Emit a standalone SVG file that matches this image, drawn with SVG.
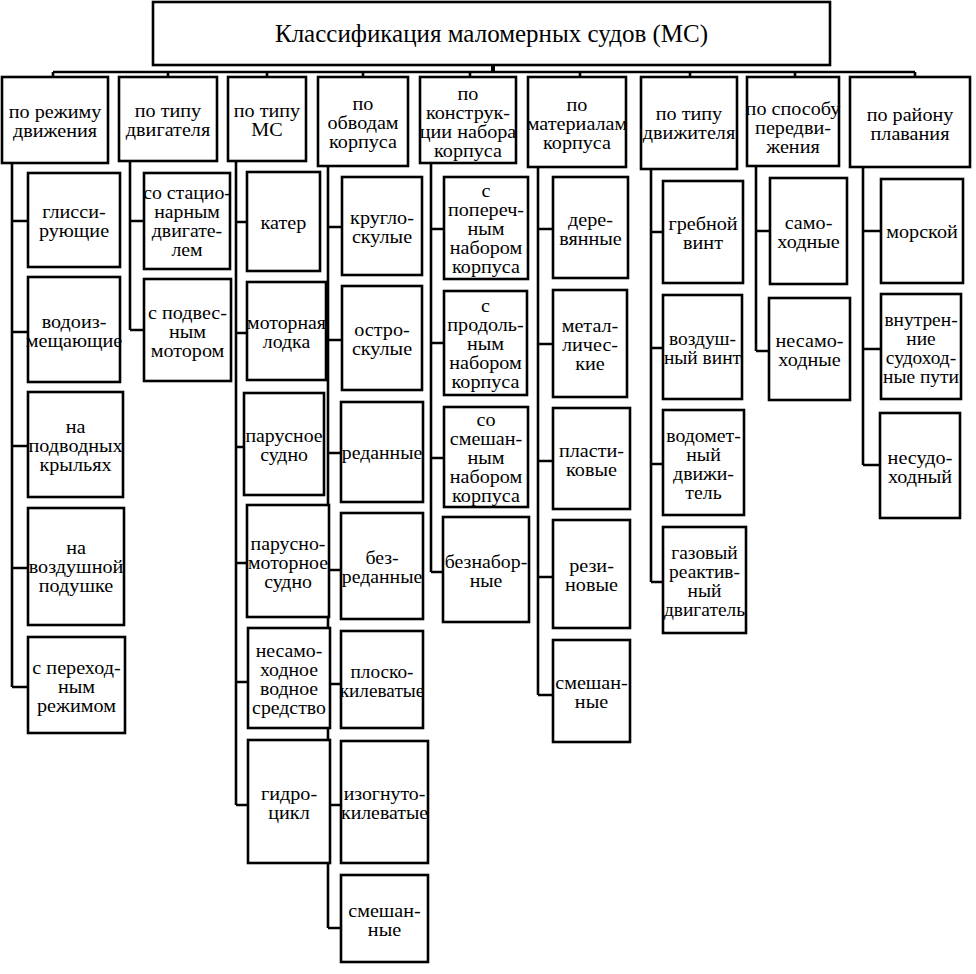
<svg xmlns="http://www.w3.org/2000/svg" width="976" height="974" viewBox="0 0 976 974">
<style>
rect{fill:#fff;stroke:#000;stroke-width:2.6}
text{font-family:'Liberation Serif','DejaVu Serif',serif;font-size:18px;text-anchor:middle;fill:#000}
.title{font-size:25px}
.c path{fill:none;stroke:#000;stroke-width:2.6}
</style>
<rect width="976" height="974" style="stroke:none"/>
<g class="c" id="connectors">
<path d="M53,72 H915 M53,72 V77 M168,72 V77 M267,72 V77 M363,72 V77 M470,72 V77 M580,72 V77 M690,72 V77 M795,72 V77 M915,72 V77" />
<path d="M493,65 V72" style="stroke-width:4"/>
<path d="M12,163 V687 M12,221 H28 M12,332 H28 M12,446 H28 M12,568 H28 M12,687 H28"/>
<path d="M130,161 V330 M130,221 H144 M130,330 H144"/>
<path d="M236,161 V805 M236,222 H247 M236,333 H247 M236,447 H244 M236,563 H247 M236,682 H248 M236,805 H248"/>
<path d="M328,166 V928 M328,227 H342 M328,340 H342 M328,453 H341 M328,570 H341 M328,684 H341 M328,805 H341 M328,928 H341"/>
<path d="M431,163 V572 M431,229 H444 M431,343 H444 M431,458 H444 M431,572 H443"/>
<path d="M538,167 V695 M538,229 H553 M538,344 H553 M538,461 H553 M538,577 H553 M538,695 H553"/>
<path d="M651,169 V582 M651,232 H663 M651,348 H663 M651,464 H663 M651,582 H663"/>
<path d="M756,166 V351 M756,231 H770 M756,351 H769"/>
<path d="M863,167 V465 M863,231 H881 M863,349 H881 M863,465 H880"/>
</g>

<g id="title"><rect x="153" y="2" width="677" height="63"/><text class="title" x="491.5" y="42">Классификация маломерных судов (МС)</text></g>

<g id="h1"><rect x="2" y="77" width="106" height="86"/><text transform="translate(55 0) scale(1.12 1)" y="118.5">по режиму<tspan x="0" dy="19">движения</tspan></text></g>
<g id="h2"><rect x="119" y="77" width="98" height="84"/><text transform="translate(168 0) scale(1.12 1)" y="117.5">по типу<tspan x="0" dy="19">двигателя</tspan></text></g>
<g id="h3"><rect x="228" y="77" width="78" height="84"/><text transform="translate(267 0) scale(1.12 1)" y="117.5">по типу<tspan x="0" dy="19">МС</tspan></text></g>
<g id="h4"><rect x="318" y="77" width="90" height="89"/><text transform="translate(363 0) scale(1.12 1)" y="110.5">по<tspan x="0" dy="19">обводам</tspan><tspan x="0" dy="19">корпуса</tspan></text></g>
<g id="h5"><rect x="420" y="77" width="96" height="86"/><text transform="translate(468 0) scale(1.12 1)" y="100">по<tspan x="0" dy="19">конструк-</tspan><tspan x="0" dy="19">ции набора</tspan><tspan x="0" dy="19">корпуса</tspan></text></g>
<g id="h6"><rect x="528" y="77" width="98" height="90"/><text transform="translate(577 0) scale(1.12 1)" y="111">по<tspan x="0" dy="19">материалам</tspan><tspan x="0" dy="19">корпуса</tspan></text></g>
<g id="h7"><rect x="641" y="77" width="96" height="92"/><text transform="translate(689 0) scale(1.12 1)" y="120">по типу<tspan x="0" dy="19">движителя</tspan></text></g>
<g id="h8"><rect x="747" y="77" width="92" height="89"/><text transform="translate(793 0) scale(1.12 1)" y="115">по способу<tspan x="0" dy="19">передви-</tspan><tspan x="0" dy="19">жения</tspan></text></g>
<g id="h9"><rect x="850" y="77" width="120" height="90"/><text transform="translate(910 0) scale(1.12 1)" y="121">по району<tspan x="0" dy="19">плавания</tspan></text></g>

<g id="c1a"><rect x="28" y="173" width="92" height="94"/><text transform="translate(74 0) scale(1.12 1)" y="218.5">глисси-<tspan x="0" dy="19">рующие</tspan></text></g>
<g id="c1b"><rect x="28" y="277" width="92" height="105"/><text transform="translate(74 0) scale(1.12 1)" y="328">водоиз-<tspan x="0" dy="19">мещающие</tspan></text></g>
<g id="c1c"><rect x="28" y="392" width="95" height="105"/><text transform="translate(75.5 0) scale(1.12 1)" y="433.5">на<tspan x="0" dy="19">подводных</tspan><tspan x="0" dy="19">крыльях</tspan></text></g>
<g id="c1d"><rect x="28" y="508" width="96" height="117"/><text transform="translate(76 0) scale(1.12 1)" y="554">на<tspan x="0" dy="19">воздушной</tspan><tspan x="0" dy="19">подушке</tspan></text></g>
<g id="c1e"><rect x="28" y="637" width="97" height="96"/><text transform="translate(76.5 0) scale(1.12 1)" y="674">с переход-<tspan x="0" dy="19">ным</tspan><tspan x="0" dy="19">режимом</tspan></text></g>

<g id="c2a"><rect x="144" y="173" width="86" height="96"/><text transform="translate(187 0) scale(1.1 1)" y="199.5">со стацио-<tspan x="0" dy="19">нарным</tspan><tspan x="0" dy="19">двигате-</tspan><tspan x="0" dy="19">лем</tspan></text></g>
<g id="c2b"><rect x="144" y="279" width="87" height="102"/><text transform="translate(187.5 0) scale(1.12 1)" y="319">с подвес-<tspan x="0" dy="19">ным</tspan><tspan x="0" dy="19">мотором</tspan></text></g>

<g id="c3a"><rect x="247" y="172" width="73" height="99"/><text transform="translate(283.5 0) scale(1.12 1)" y="229">катер</text></g>
<g id="c3b"><rect x="247" y="282" width="79" height="98"/><text transform="translate(286.5 0) scale(1.1 1)" y="329.5">моторная<tspan x="0" dy="19">лодка</tspan></text></g>
<g id="c3c"><rect x="244" y="393" width="80" height="102"/><text transform="translate(284 0) scale(1.1 1)" y="442.5">парусное<tspan x="0" dy="19">судно</tspan></text></g>
<g id="c3d"><rect x="247" y="505" width="82" height="112"/><text transform="translate(288 0) scale(1.1 1)" y="550">парусно-<tspan x="0" dy="19">моторное</tspan><tspan x="0" dy="19">судно</tspan></text></g>
<g id="c3e"><rect x="248" y="628" width="82" height="100"/><text transform="translate(289 0) scale(1.1 1)" y="657.5">несамо-<tspan x="0" dy="19">ходное</tspan><tspan x="0" dy="19">водное</tspan><tspan x="0" dy="19">средство</tspan></text></g>
<g id="c3f"><rect x="248" y="740" width="82" height="123"/><text transform="translate(289 0) scale(1.12 1)" y="800">гидро-<tspan x="0" dy="19">цикл</tspan></text></g>

<g id="c4a"><rect x="342" y="177" width="80" height="98"/><text transform="translate(382 0) scale(1.12 1)" y="224.5">кругло-<tspan x="0" dy="19">скулые</tspan></text></g>
<g id="c4b"><rect x="342" y="286" width="80" height="104"/><text transform="translate(382 0) scale(1.12 1)" y="336.5">остро-<tspan x="0" dy="19">скулые</tspan></text></g>
<g id="c4c"><rect x="341" y="402" width="82" height="100"/><text transform="translate(382 0) scale(1.1 1)" y="459">реданные</text></g>
<g id="c4d"><rect x="341" y="513" width="82" height="106"/><text transform="translate(382 0) scale(1.1 1)" y="564.5">без-<tspan x="0" dy="19">реданные</tspan></text></g>
<g id="c4e"><rect x="341" y="631" width="82" height="97"/><text transform="translate(382 0) scale(1.07 1)" y="678">плоско-<tspan x="0" dy="19">килеватые</tspan></text></g>
<g id="c4f"><rect x="341" y="741" width="87" height="122"/><text transform="translate(384.5 0) scale(1.1 1)" y="800.5">изогнуто-<tspan x="0" dy="19">килеватые</tspan></text></g>
<g id="c4g"><rect x="341" y="875" width="87" height="87"/><text transform="translate(384.5 0) scale(1.12 1)" y="917">смешан-<tspan x="0" dy="19">ные</tspan></text></g>

<g id="c5a"><rect x="444" y="177" width="84" height="102"/><text transform="translate(486 0) scale(1.12 1)" y="197">с<tspan x="0" dy="19">попереч-</tspan><tspan x="0" dy="19">ным</tspan><tspan x="0" dy="19">набором</tspan><tspan x="0" dy="19">корпуса</tspan></text></g>
<g id="c5b"><rect x="444" y="291" width="83" height="104"/><text transform="translate(485.5 0) scale(1.12 1)" y="312">с<tspan x="0" dy="19">продоль-</tspan><tspan x="0" dy="19">ным</tspan><tspan x="0" dy="19">набором</tspan><tspan x="0" dy="19">корпуса</tspan></text></g>
<g id="c5c"><rect x="444" y="407" width="84" height="100"/><text transform="translate(486 0) scale(1.12 1)" y="426">со<tspan x="0" dy="19">смешан-</tspan><tspan x="0" dy="19">ным</tspan><tspan x="0" dy="19">набором</tspan><tspan x="0" dy="19">корпуса</tspan></text></g>
<g id="c5d"><rect x="443" y="517" width="86" height="105"/><text transform="translate(486 0) scale(1.1 1)" y="568">безнабор-<tspan x="0" dy="19">ные</tspan></text></g>

<g id="c6a"><rect x="553" y="177" width="75" height="101"/><text transform="translate(590.5 0) scale(1.12 1)" y="226">дере-<tspan x="0" dy="19">вянные</tspan></text></g>
<g id="c6b"><rect x="553" y="290" width="74" height="107"/><text transform="translate(590 0) scale(1.12 1)" y="332.5">метал-<tspan x="0" dy="19">личес-</tspan><tspan x="0" dy="19">кие</tspan></text></g>
<g id="c6c"><rect x="553" y="408" width="77" height="101"/><text transform="translate(591.5 0) scale(1.12 1)" y="457">пласти-<tspan x="0" dy="19">ковые</tspan></text></g>
<g id="c6d"><rect x="553" y="520" width="77" height="108"/><text transform="translate(591.5 0) scale(1.12 1)" y="572.5">рези-<tspan x="0" dy="19">новые</tspan></text></g>
<g id="c6e"><rect x="553" y="640" width="77" height="102"/><text transform="translate(591.5 0) scale(1.12 1)" y="689.5">смешан-<tspan x="0" dy="19">ные</tspan></text></g>

<g id="c7a"><rect x="663" y="181" width="80" height="102"/><text transform="translate(703 0) scale(1.12 1)" y="230.5">гребной<tspan x="0" dy="19">винт</tspan></text></g>
<g id="c7b"><rect x="663" y="295" width="79" height="104"/><text transform="translate(702.5 0) scale(1.08 1)" y="345.5">воздуш-<tspan x="0" dy="19">ный винт</tspan></text></g>
<g id="c7c"><rect x="663" y="410" width="81" height="105"/><text transform="translate(703.5 0) scale(1.1 1)" y="442">водомет-<tspan x="0" dy="19">ный</tspan><tspan x="0" dy="19">движи-</tspan><tspan x="0" dy="19">тель</tspan></text></g>
<g id="c7d"><rect x="663" y="527" width="83" height="106"/><text transform="translate(704.5 0) scale(1.08 1)" y="559.5">газовый<tspan x="0" dy="19">реактив-</tspan><tspan x="0" dy="19">ный</tspan><tspan x="0" dy="19">двигатель</tspan></text></g>

<g id="c8a"><rect x="770" y="178" width="77" height="106"/><text transform="translate(808.5 0) scale(1.12 1)" y="229.5">само-<tspan x="0" dy="19">ходные</tspan></text></g>
<g id="c8b"><rect x="769" y="298" width="81" height="102"/><text transform="translate(809.5 0) scale(1.12 1)" y="347.5">несамо-<tspan x="0" dy="19">ходные</tspan></text></g>

<g id="c9a"><rect x="881" y="179" width="82" height="104"/><text transform="translate(922 0) scale(1.12 1)" y="238">морской</text></g>
<g id="c9b"><rect x="881" y="294" width="80" height="105"/><text transform="translate(921 0) scale(1.08 1)" y="326">внутрен-<tspan x="0" dy="19">ние</tspan><tspan x="0" dy="19">судоход-</tspan><tspan x="0" dy="19">ные пути</tspan></text></g>
<g id="c9c"><rect x="880" y="413" width="80" height="105"/><text transform="translate(920 0) scale(1.12 1)" y="464">несудо-<tspan x="0" dy="19">ходный</tspan></text></g>
</svg>
